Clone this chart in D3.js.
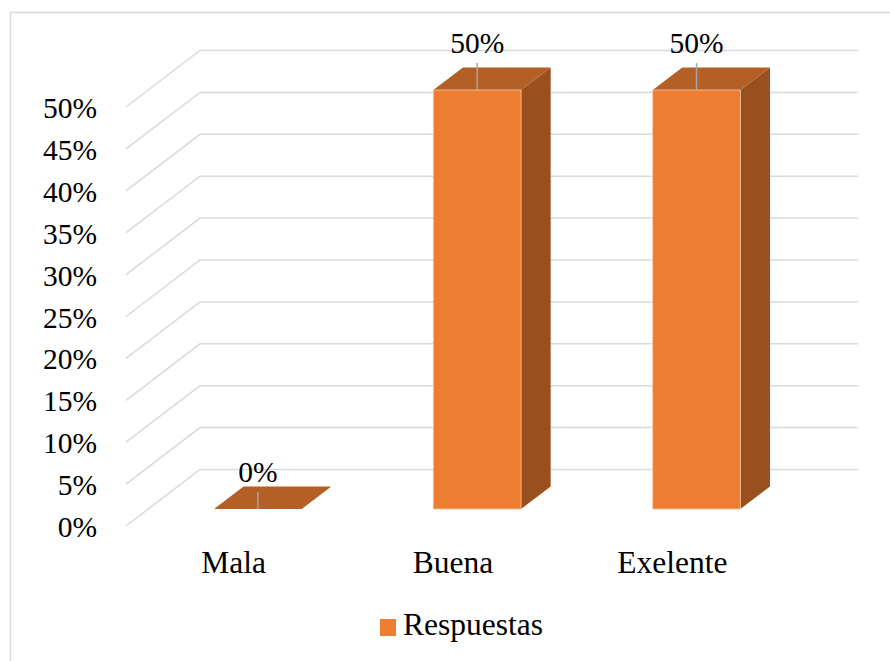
<!DOCTYPE html>
<html>
<head>
<meta charset="utf-8">
<script src="https://cdn.jsdelivr.net/npm/d3@7"></script>
<style>
  html, body { margin: 0; padding: 0; background: #fff; }
  svg { display: block; }
  text { font-family: "Liberation Serif", "Times New Roman", serif; fill: #000; }
</style>
</head>
<body>
<svg id="chart" width="890" height="661"></svg>
<script>
// Survey results
const categories = ["Mala", "Buena", "Exelente"];
const values = [0, 50, 50];           // percent of answers
const yTicks = [0, 5, 10, 15, 20, 25, 30, 35, 40, 45, 50];
const seriesName = "Respuestas";

const W = 890, H = 661;
const svg = d3.select("#chart");

// 3D projection: depth z in [0,1] moves a point right and up
const DX = 74, DY = 56.5;
const y = d3.scaleLinear().domain([0, 50]).range([526, 107]);
const x = d3.scaleBand().domain(categories).range([126, 784])
  .paddingInner(0.6).paddingOuter(0.3);
const P = (px, v, z) => [px + z * DX, y(v) - z * DY];
const pts = arr => arr.map(p => p.join(",")).join(" ");

// outer frame
svg.append("rect")
  .attr("x", 10.5).attr("y", 12.5)
  .attr("width", 900).attr("height", 700)
  .attr("fill", "none").attr("stroke", "#d9d9d9").attr("stroke-width", 1.5);

// gridlines: left side wall diagonal + back wall horizontal
const grid = svg.append("g")
  .attr("fill", "none").attr("stroke", "#d9d9d9").attr("stroke-width", 1.5);
yTicks.forEach(t => {
  const a = P(126, t, 0), b = P(126, t, 1), c = P(784, t, 1);
  grid.append("polyline").attr("points", pts([a, b, c]));
});

// y-axis labels
svg.append("g").selectAll("text").data(yTicks).join("text")
  .attr("x", 97).attr("y", d => y(d) + 11)
  .attr("text-anchor", "end").attr("font-size", 29.5)
  .text(d => d + "%");

// bars
const Z0 = 0.3, Z1 = 0.7;
const bars = svg.append("g");
categories.forEach((c, i) => {
  const v = values[i];
  const x0 = x(c), x1 = x(c) + x.bandwidth();
  const g = bars.append("g");
  // right side face
  g.append("polygon")
    .attr("points", pts([P(x1, 0, Z0), P(x1, 0, Z1), P(x1, v, Z1), P(x1, v, Z0)]))
    .attr("fill", "#9a4f1e");
  // top face
  g.append("polygon")
    .attr("points", pts([P(x0, v, Z0), P(x1, v, Z0), P(x1, v, Z1), P(x0, v, Z1)]))
    .attr("fill", "#b45f25");
  // front face
  if (v > 0) {
    g.append("polygon")
      .attr("points", pts([P(x0, 0, Z0), P(x1, 0, Z0), P(x1, v, Z0), P(x0, v, Z0)]))
      .attr("fill", "#ed7d31").attr("stroke", "#f6c6a4").attr("stroke-width", 0.8);
  }
});

// data labels with leader lines
const labels = svg.append("g");
categories.forEach((c, i) => {
  const v = values[i];
  const cx = x(c) + x.bandwidth() / 2;
  const top = P(cx, v, Z0);
  const base = top[1] - 27 - 10 * (v / 50);
  labels.append("line")
    .attr("x1", top[0]).attr("y1", top[1])
    .attr("x2", top[0]).attr("y2", base + 10)
    .attr("stroke", "#a6a6a6").attr("stroke-width", 1.5);
  labels.append("text")
    .attr("x", top[0]).attr("y", base)
    .attr("text-anchor", "middle").attr("font-size", 29.5)
    .text(v + "%");
});

// category labels
svg.append("g").selectAll("text").data(categories).join("text")
  .attr("x", d => x(d) + x.bandwidth() / 2 - 2)
  .attr("y", 573)
  .attr("text-anchor", "middle").attr("font-size", 31.5)
  .text(d => d);

// legend
const lg = svg.append("g");
lg.append("rect").attr("x", 380).attr("y", 619).attr("width", 16).attr("height", 17)
  .attr("fill", "#ed7d31");
lg.append("text").attr("x", 403).attr("y", 635).attr("font-size", 31.5).text(seriesName);
</script>
</body>
</html>
